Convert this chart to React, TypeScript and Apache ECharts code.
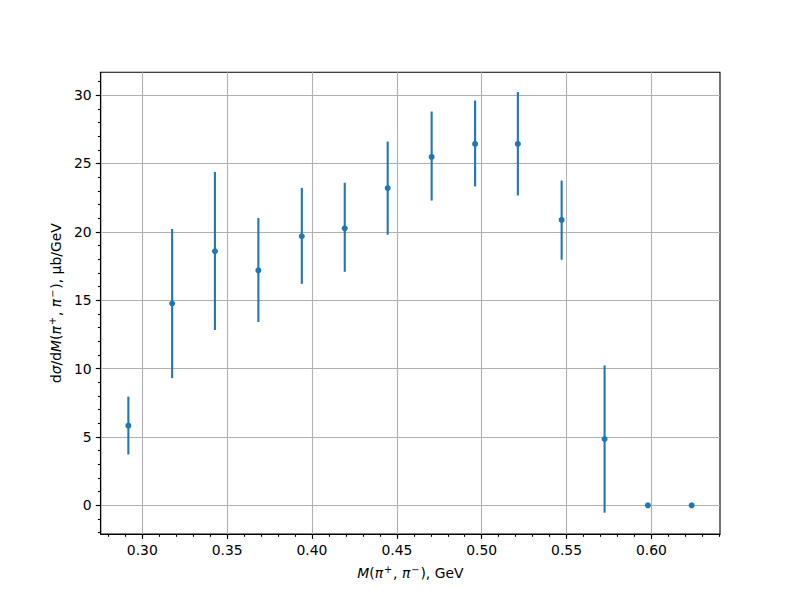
import React, { useEffect, useRef } from "react";
import * as echarts from "echarts";

// Bin centres, GeV
const xValues = [0.2918, 0.3176, 0.3428, 0.3684, 0.394, 0.4193, 0.4446, 0.4705, 0.4961, 0.5213, 0.5471, 0.5724, 0.5979, 0.6237];
// dσ/dM, μb/GeV
const yValues = [5.82, 14.76, 18.58, 17.18, 19.68, 20.26, 23.2, 25.48, 26.43, 26.43, 20.87, 4.85, 0, 0];
const yLow = [3.72, 9.3, 12.82, 13.41, 16.2, 17.08, 19.79, 22.29, 23.32, 22.66, 17.96, -0.54, 0, 0];
const yHigh = [7.95, 20.21, 24.38, 21.02, 23.22, 23.59, 26.6, 28.8, 29.61, 30.23, 23.75, 10.23, 0, 0];

// Ticks
const xMajorTicks = [0.3, 0.35, 0.4, 0.45, 0.5, 0.55, 0.6];
const xMinorTicks = [0.28, 0.29, 0.3, 0.31, 0.32, 0.33, 0.34, 0.35, 0.36, 0.37, 0.38, 0.39, 0.4, 0.41, 0.42, 0.43, 0.44, 0.45, 0.46, 0.47, 0.48, 0.49, 0.5, 0.51, 0.52, 0.53, 0.54, 0.55, 0.56, 0.57, 0.58, 0.59, 0.6, 0.61, 0.62, 0.63, 0.64];
const yMajorTicks = [0, 5, 10, 15, 20, 25, 30];
const yMinorTicks = [-2, -1, 0, 1, 2, 3, 4, 5, 6, 7, 8, 9, 10, 11, 12, 13, 14, 15, 16, 17, 18, 19, 20, 21, 22, 23, 24, 25, 26, 27, 28, 29, 30, 31];

const X_MIN = 0.2755;
const X_MAX = 0.6404;
const Y_MIN = -2.1;
const Y_MAX = 31.67;

const FONT = "DejaVu Sans";
const BLUE = "#1f77b4";

export default function App() {
  const ref = useRef<HTMLDivElement>(null);

  useEffect(() => {
    if (!ref.current) return;
    const chart = echarts.init(ref.current, null, { renderer: "svg" });

    const richStyles = {
      n: { fontFamily: FONT, fontSize: 13.9, color: "#000" },
      i: { fontFamily: FONT, fontSize: 13.9, color: "#000", fontStyle: "italic" },
      sup: {
        fontFamily: FONT,
        fontSize: 9.7,
        color: "#000",
        verticalAlign: "bottom",
        padding: [0, 1, 7, 1],
      },
    };

    const lineStyle = { color: "#000", width: 1.1 };
    const gridLine = { show: true, lineStyle: { color: "#b0b0b0", width: 1.1 } };

    chart.setOption({
      animation: false,
      grid: {
        left: 100.7,
        right: 80,
        top: 72.3,
        bottom: 66,
        show: true,
        borderColor: "#000",
        borderWidth: 1.1,
        backgroundColor: "transparent",
        containLabel: false,
      },
      xAxis: [
        {
          type: "value",
          min: X_MIN,
          max: X_MAX,
          position: "bottom",
          axisLine: { show: true, onZero: false, lineStyle },
          axisTick: { show: true, length: 4.9, lineStyle, customValues: xMajorTicks },
          axisLabel: {
            show: true,
            customValues: xMajorTicks,
            formatter: (v: number) => v.toFixed(2),
            fontFamily: FONT,
            fontSize: 13.9,
            color: "#000",
            margin: 9,
          },
          splitLine: gridLine,
          name: "{i|M}{n|(}{i|π}{sup|+}{n|, }{i|π}{sup|−}{n|), GeV}",
          nameLocation: "middle",
          nameGap: 30,
          nameTextStyle: { rich: richStyles },
        },
        {
          type: "value",
          min: X_MIN,
          max: X_MAX,
          position: "bottom",
          axisLine: { show: false, onZero: false },
          axisTick: { show: true, length: 2.8, lineStyle, customValues: xMinorTicks },
          axisLabel: { show: false, customValues: xMinorTicks },
          splitLine: { show: false },
        },
      ],
      yAxis: [
        {
          type: "value",
          min: Y_MIN,
          max: Y_MAX,
          position: "left",
          axisLine: { show: true, onZero: false, lineStyle },
          axisTick: { show: true, length: 4.9, lineStyle, customValues: yMajorTicks },
          axisLabel: {
            show: true,
            customValues: yMajorTicks,
            formatter: (v: number) => String(Math.round(v)),
            fontFamily: FONT,
            fontSize: 13.9,
            color: "#000",
            margin: 9,
          },
          splitLine: gridLine,
          name: "{n|d}{i|σ}{n|/d}{i|M}{n|(}{i|π}{sup|+}{n|, }{i|π}{sup|−}{n|), μb/GeV}",
          nameLocation: "middle",
          nameGap: 34,
          nameRotate: 90,
          nameTextStyle: { rich: richStyles },
        },
        {
          type: "value",
          min: Y_MIN,
          max: Y_MAX,
          position: "left",
          axisLine: { show: false, onZero: false },
          axisTick: { show: true, length: 2.8, lineStyle, customValues: yMinorTicks },
          axisLabel: { show: false, customValues: yMinorTicks },
          splitLine: { show: false },
        },
      ],
      series: [
        {
          type: "custom",
          xAxisIndex: 0,
          yAxisIndex: 0,
          data: xValues.map((x, i) => [x, yLow[i], yHigh[i]]),
          encode: { x: 0, y: [1, 2] },
          renderItem: (params: any, api: any) => {
            const x = api.value(0);
            const p1 = api.coord([x, api.value(1)]);
            const p2 = api.coord([x, api.value(2)]);
            return {
              type: "line",
              shape: { x1: p1[0], y1: p1[1], x2: p2[0], y2: p2[1] },
              style: { stroke: BLUE, lineWidth: 2.1 },
            };
          },
          z: 3,
        },
        {
          type: "scatter",
          xAxisIndex: 0,
          yAxisIndex: 0,
          data: xValues.map((x, i) => [x, yValues[i]]),
          symbol: "circle",
          symbolSize: 6,
          itemStyle: { color: BLUE, opacity: 1 },
          z: 4,
        },
      ],
    });

    return () => chart.dispose();
  }, []);

  return (
    <div
      ref={ref}
      style={{ position: "fixed", left: 0, top: 0, width: 800, height: 600, background: "#fff" }}
    />
  );
}
